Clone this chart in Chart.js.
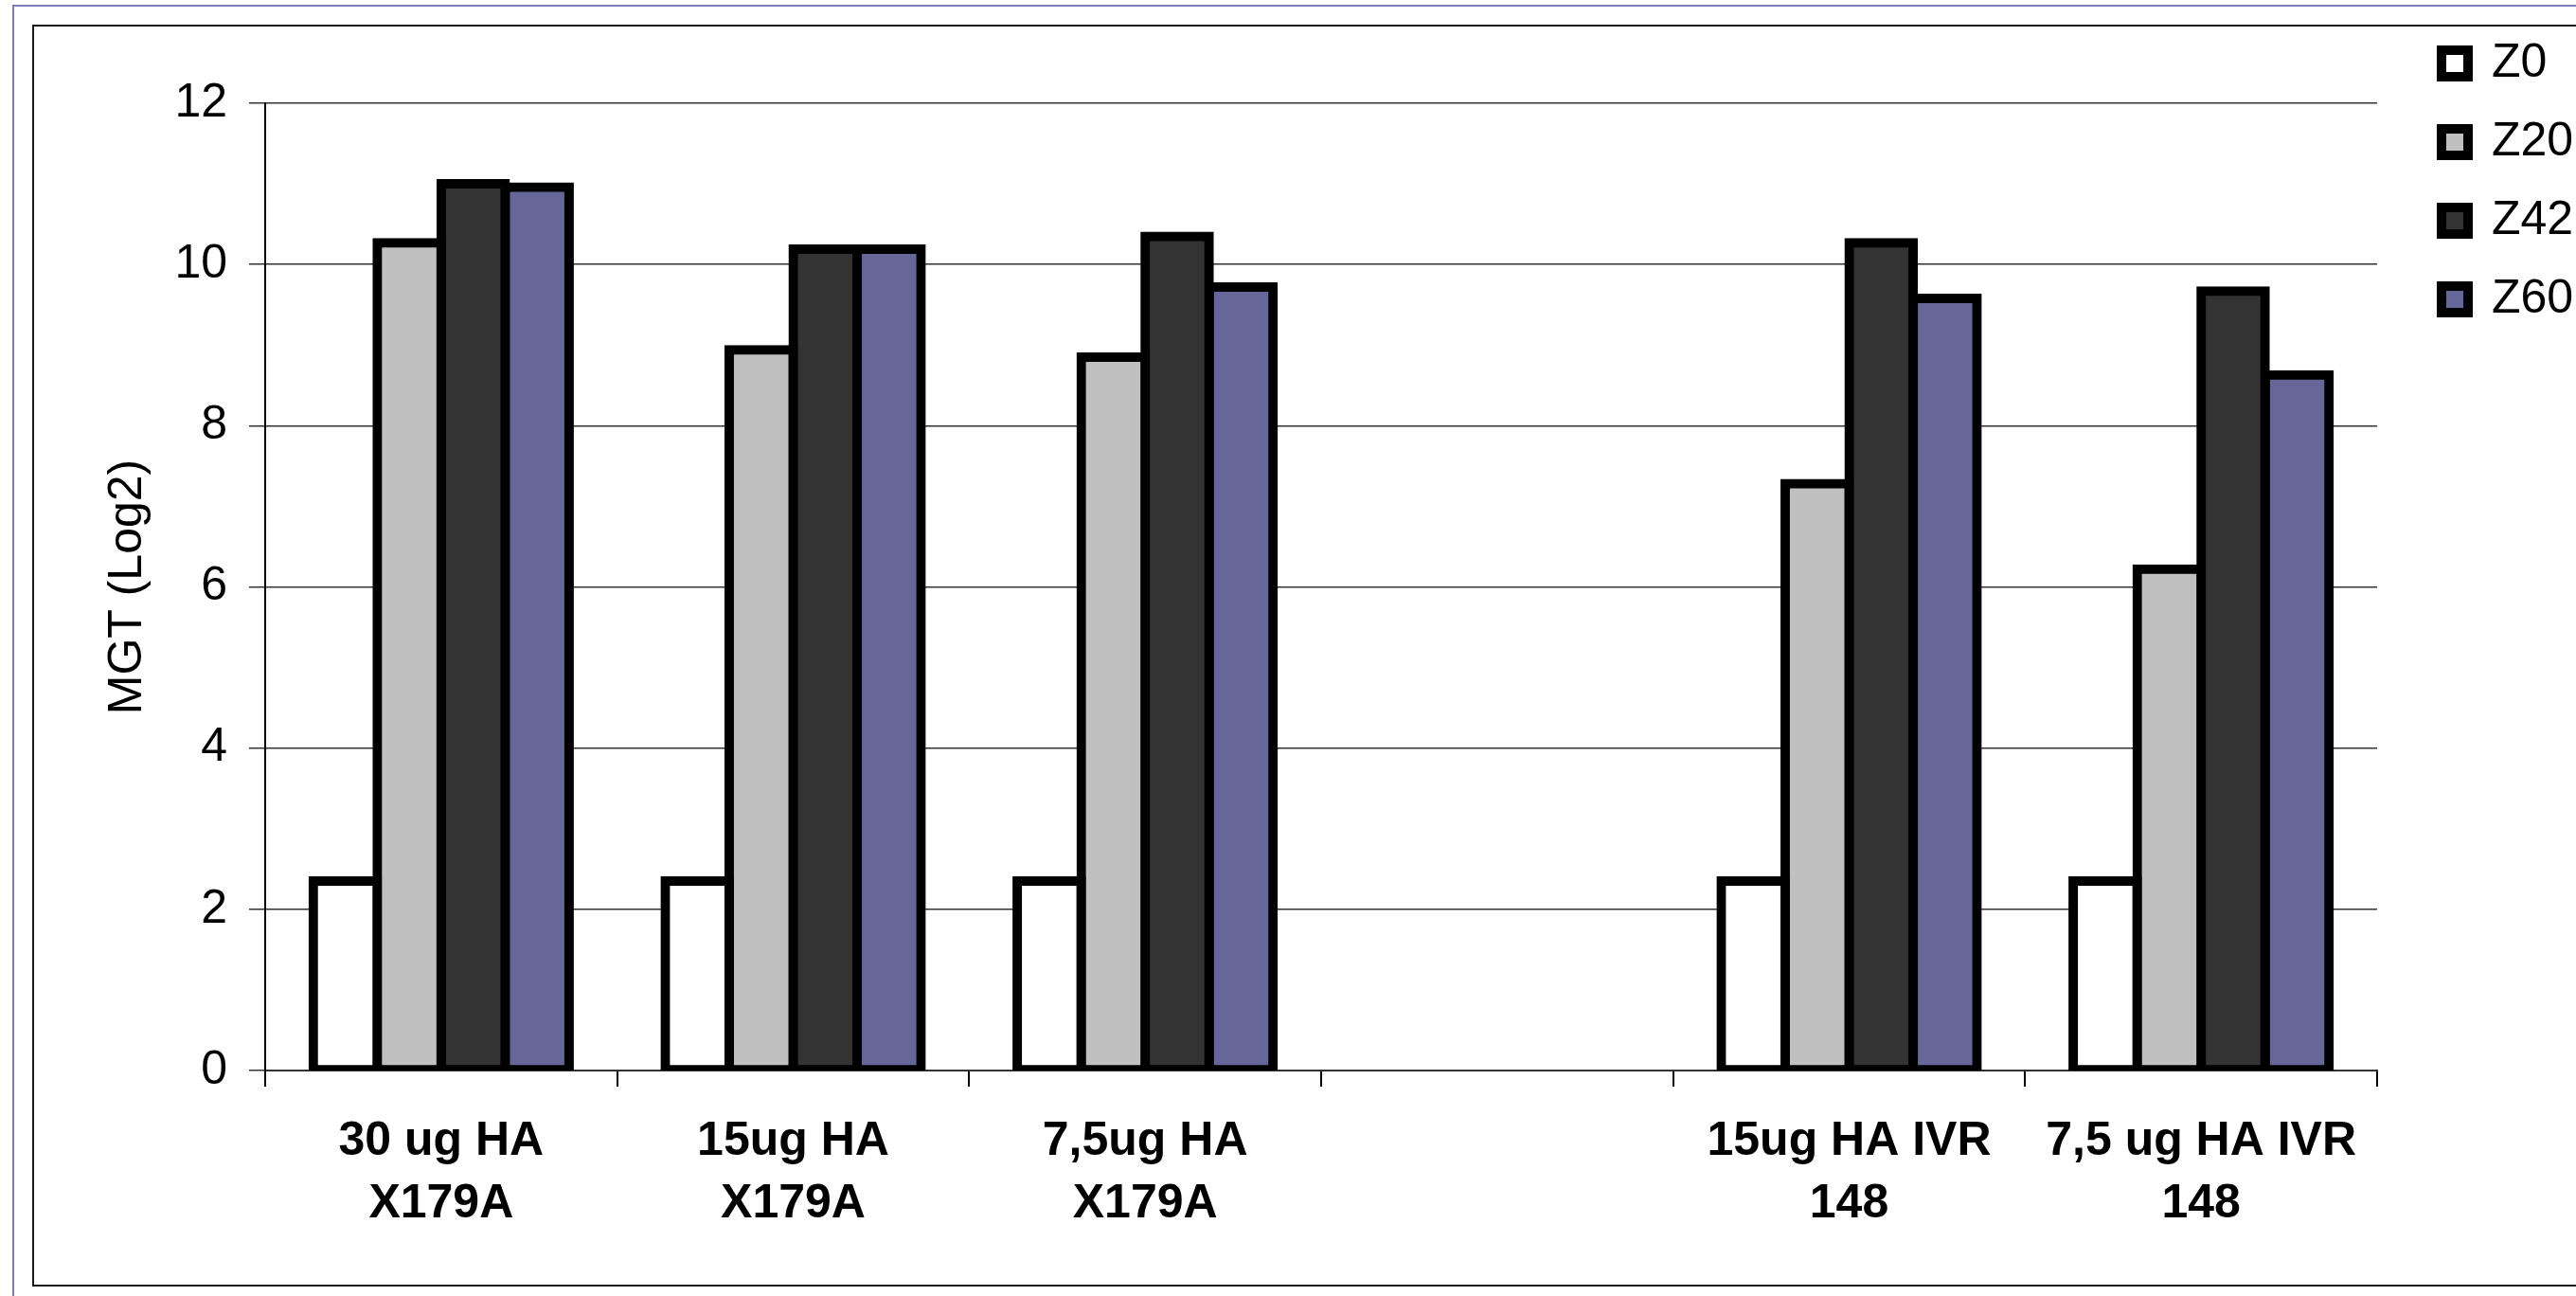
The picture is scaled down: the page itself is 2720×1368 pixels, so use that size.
<!DOCTYPE html>
<html>
<head>
<meta charset="utf-8">
<title>MGT (Log2)</title>
<script src="https://cdn.jsdelivr.net/npm/chart.js@4/dist/chart.umd.min.js"></script>
<style>
  html, body { margin: 0; padding: 0; background: #ffffff; }
  canvas { display: block; }
</style>
</head>
<body>
<canvas id="chart" width="2720" height="1368"></canvas>
<script>
// Groups on the x axis (the fourth slot is left empty as a spacer)
const categories = [
  ['30 ug HA', 'X179A'],
  ['15ug HA', 'X179A'],
  ['7,5ug HA', 'X179A'],
  '',
  ['15ug HA IVR', '148'],
  ['7,5 ug HA IVR', '148']
];

// Mean geometric titres (log2) per sampling day
const z0  = [2.35, 2.35, 2.35, null, 2.35, 2.35];
const z20 = [10.27, 8.94, 8.85, null, 7.28, 6.22];
const z42 = [11.0, 10.19, 10.35, null, 10.27, 9.67];
const z60 = [10.96, 10.19, 9.72, null, 9.58, 8.63];

const seriesNames = ['Z0', 'Z20', 'Z42', 'Z60'];
const seriesColors = ['#ffffff', '#c0c0c0', '#333333', '#666699'];

const yTicks = [0, 2, 4, 6, 8, 10, 12];

const FONT = "'Liberation Sans', Arial, sans-serif";
const BORDER = 10;

// Page frames: thin blue outer frame and black inner frame
const framePlugin = {
  id: 'frames',
  beforeDraw(chart) {
    const ctx = chart.ctx;
    ctx.save();
    ctx.fillStyle = '#ffffff';
    ctx.fillRect(0, 0, chart.width, chart.height);
    ctx.lineWidth = 2;
    ctx.strokeStyle = '#7c7cb8';
    ctx.strokeRect(14, 6, chart.width + 20, chart.height + 20);
    ctx.strokeStyle = '#1a1a1a';
    ctx.strokeRect(35, 27, chart.width + 20, 1330);
    ctx.restore();
  }
};

// Move the legend block to the upper right corner of the frame
const LEGEND_LEFT = 2578;
const LEGEND_TOP = 42;
const legendPlacer = {
  id: 'legendPlacer',
  afterLayout(chart) {
    const lg = chart.legend;
    if (!lg) return;
    const pad = lg.options.labels.padding;
    const dx = LEGEND_LEFT - (lg.left + pad);
    const dy = LEGEND_TOP - (lg.top + pad);
    lg.left += dx; lg.right += dx;
    lg.top += dy; lg.bottom += dy;
  }
};

const dataSets = [z0, z20, z42, z60].map((vals, i) => ({
  label: seriesNames[i],
  data: vals,
  backgroundColor: seriesColors[i],
  borderColor: '#000000',
  borderWidth: BORDER,
  borderSkipped: false,
  inflateAmount: BORDER / 2,
  categoryPercentage: 0.727,
  barPercentage: 1.0,
  clip: { left: false, right: false, top: false, bottom: 0 }
}));

new Chart(document.getElementById('chart'), {
  type: 'bar',
  data: { labels: categories, datasets: dataSets },
  plugins: [framePlugin, legendPlacer],
  options: {
    responsive: false,
    animation: false,
    devicePixelRatio: 1,
    layout: { padding: { left: 0, top: 109, right: 210, bottom: 38 } },
    plugins: {
      tooltip: { enabled: false },
      legend: {
        position: 'chartArea',
        align: 'start',
        labels: {
          boxWidth: 28,
          boxHeight: 28,
          padding: 33,
          color: '#000000',
          font: { family: FONT, size: 50 }
        }
      }
    },
    scales: {
      x: {
        offset: true,
        afterFit(scale) { scale.height = 200; },
        grid: {
          offset: true,
          drawOnChartArea: false,
          drawTicks: true,
          tickLength: 17,
          color: '#000000',
          lineWidth: 2
        },
        border: { display: true, color: '#333333', width: 2 },
        ticks: {
          padding: 25,
          color: '#000000',
          maxRotation: 0,
          autoSkip: false,
          font: { family: FONT, size: 50, weight: 'bold', lineHeight: 1.32 }
        }
      },
      y: {
        min: 0,
        max: 12,
        afterFit(scale) { scale.width = 280; },
        afterBuildTicks(scale) { scale.ticks = yTicks.map(v => ({ value: v })); },
        grid: {
          drawTicks: true,
          tickLength: 17,
          color: '#333333',
          lineWidth: 1.5
        },
        border: { display: true, color: '#000000', width: 2 },
        ticks: {
          padding: 23,
          color: '#000000',
          font: { family: FONT, size: 50 }
        },
        title: {
          display: true,
          text: 'MGT (Log2)',
          color: '#000000',
          padding: { top: 105, bottom: 0 },
          font: { family: FONT, size: 50 }
        }
      }
    }
  }
});
</script>
</body>
</html>
